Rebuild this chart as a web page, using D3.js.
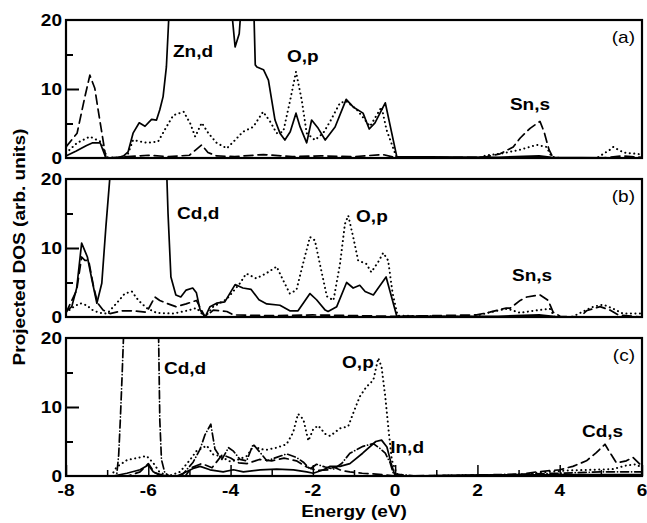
<!DOCTYPE html>
<html>
<head>
<meta charset="utf-8">
<script src="https://cdn.jsdelivr.net/npm/d3@7"></script>
<style>
body { margin: 0; background: #fff; }
text { font-family: "Liberation Sans", Arial, Helvetica, sans-serif; }
</style>
</head>
<body>
<script>
// projected DOS, [energy (eV), DOS]
// values above 20 leave the frame and are clipped
var znD_a = [[-8,0.3],[-7.75,1.0],[-7.5,1.8],[-7.35,2.2],[-7.17,2.2],[-7.03,0],[-6.76,0],[-6.6,0.3],[-6.49,0.9],[-6.37,3.6],[-6.22,5.1],[-6.08,4.6],[-5.92,5.6],[-5.8,5.5],[-5.72,7.0],[-5.64,8.9],[-5.56,13.2],[-5.5,20.5],[-5.4,35],[-4.1,35],[-3.96,20.5],[-3.89,16.1],[-3.79,18],[-3.76,20.5],[-3.6,35],[-3.48,35],[-3.43,20.5],[-3.4,13.5],[-3.36,13.2],[-3.2,12.8],[-3.08,11.3],[-3.0,8.4],[-2.92,5.5],[-2.8,3.6],[-2.68,2.6],[-2.55,3.8],[-2.41,6.5],[-2.31,4.5],[-2.15,2.2],[-2.03,5.5],[-1.87,4.3],[-1.7,2.6],[-1.46,4.5],[-1.19,8.5],[-1.02,7.4],[-0.78,6.5],[-0.63,4.2],[-0.49,5.1],[-0.24,8.0],[0.04,0.2],[2.5,0.1],[3.5,0.3],[3.8,0.1],[6,0]];
var oP_a = [[-8,0.7],[-7.73,2.2],[-7.42,3.1],[-7.17,2.4],[-7.0,0.1],[-6.6,0],[-6.5,0.5],[-6.37,2.6],[-6.04,2.2],[-5.76,2.4],[-5.56,4.5],[-5.39,6.2],[-5.14,6.7],[-4.98,5.0],[-4.86,3.1],[-4.7,5.1],[-4.54,3.6],[-4.34,2.2],[-4.09,1.4],[-3.89,2.6],[-3.7,3.8],[-3.45,4.5],[-3.21,6.7],[-3.04,5.3],[-2.88,3.6],[-2.72,3.8],[-2.55,8.4],[-2.41,12.5],[-2.27,8.4],[-2.15,3.6],[-1.95,2.6],[-1.75,3.6],[-1.58,5.3],[-1.34,8.0],[-1.18,8.2],[-0.93,7.0],[-0.61,4.6],[-0.33,7.4],[-0.21,4.1],[0.04,0],[2.0,0],[2.23,0.4],[2.55,0.6],[3.04,1.2],[3.44,1.9],[3.68,1.6],[3.8,0.2],[4.0,0],[4.9,0],[5.22,1.2],[5.3,1.6],[5.55,0.8],[5.87,0.6],[6,0.5]];
var snS_a = [[-8,1.6],[-7.73,3.6],[-7.54,8.9],[-7.42,12.0],[-7.3,10.1],[-7.22,7.0],[-7.1,2.6],[-7.03,0],[-6.5,0.2],[-6.0,0.4],[-5.5,0.2],[-5.0,0.4],[-4.86,1.1],[-4.7,1.9],[-4.55,0.8],[-4.34,0.3],[-3.9,0.2],[-3.2,0.5],[-2.5,0.2],[-1.8,0.3],[-1.0,0.2],[-0.3,0.5],[0.04,0],[2.0,0.1],[2.23,0.2],[2.55,0.6],[2.87,1.6],[3.04,2.9],[3.28,4.3],[3.52,5.3],[3.62,3.8],[3.74,1.2],[3.84,0],[5.0,0],[5.5,0.3],[6,0.1]];

var cdD_b = [[-8,0.8],[-7.86,1.5],[-7.74,4.2],[-7.62,10.7],[-7.48,8.7],[-7.37,5.4],[-7.25,2.0],[-7.13,4.9],[-7.03,13.1],[-6.93,20.5],[-6.85,35],[-5.6,35],[-5.55,20.5],[-5.52,15],[-5.45,5.8],[-5.33,3.2],[-5.21,2.9],[-5.08,3.9],[-4.92,4.2],[-4.83,3.5],[-4.74,1.0],[-4.62,0],[-4.5,1.5],[-4.34,2.0],[-4.14,2.2],[-3.89,4.7],[-3.7,4.2],[-3.5,4.0],[-3.31,2.5],[-3.12,1.9],[-2.8,1.7],[-2.56,0.9],[-2.36,0.9],[-2.07,3.4],[-1.91,2.5],[-1.7,1.0],[-1.63,0.8],[-1.42,1.5],[-1.18,5.0],[-1.02,4.2],[-0.86,4.6],[-0.73,3.7],[-0.53,3.2],[-0.41,4.2],[-0.22,5.8],[-0.11,3.4],[0.04,0.1],[2.5,0.1],[3.5,0.3],[4,0],[6,0]];
var oP_b = [[-8,0.6],[-7.86,1.3],[-7.66,2.0],[-7.5,1.7],[-7.33,0.9],[-7.17,0.6],[-7.0,0.5],[-6.77,2.0],[-6.57,3.4],[-6.4,3.7],[-6.24,2.4],[-6.04,1.3],[-5.8,0.6],[-5.39,0.5],[-5.07,0.9],[-4.83,1.3],[-4.62,0],[-4.42,1.5],[-4.09,2.6],[-3.77,4.9],[-3.62,6.3],[-3.38,5.6],[-3.14,6.3],[-2.88,7.3],[-2.72,5.3],[-2.56,3.4],[-2.4,3.9],[-2.24,7.7],[-2.07,11.6],[-1.95,11.1],[-1.83,7.7],[-1.66,3.0],[-1.5,2.4],[-1.34,7.7],[-1.22,13.5],[-1.14,14.7],[-1.02,11.6],[-0.9,8.2],[-0.7,7.7],[-0.58,6.5],[-0.41,8.0],[-0.29,9.3],[-0.17,8.2],[-0.06,3.4],[0.06,0.2],[1.8,0],[1.98,0.2],[2.47,0.9],[2.73,1.2],[3.04,0.6],[3.35,0.9],[3.76,1.2],[3.88,0],[4.3,0],[4.5,0.6],[4.82,1.5],[5.06,1.8],[5.3,1.2],[5.54,0.5],[5.87,0.5],[6,0.5]];
var snS_b = [[-8,0.6],[-7.74,3.9],[-7.62,8.7],[-7.54,8.2],[-7.45,8.2],[-7.33,4.4],[-7.23,2.0],[-7.1,1.0],[-6.93,0.5],[-6.62,0.9],[-6.37,0.9],[-6.04,0.7],[-5.84,2.9],[-5.72,2.4],[-5.56,2.0],[-5.33,1.5],[-5.08,1.9],[-4.83,2.4],[-4.62,0],[-4.42,1.0],[-4.09,0.8],[-3.93,0.3],[-3,0.2],[-2,0.3],[-1,0.2],[0,0.1],[1.98,0.3],[2.3,0.7],[2.7,1.3],[2.8,1.3],[3.04,2.4],[3.2,2.9],[3.52,3.2],[3.72,2.4],[3.84,0.7],[4.01,0.1],[4.5,0],[4.65,0.9],[4.98,1.5],[5.22,1.0],[5.42,0.3],[6,0]];

var cdD_c = [[-8,0],[-6.77,0],[-6.72,3],[-6.68,8.1],[-6.64,14],[-6.6,20.5],[-6.55,35],[-5.8,35],[-5.75,20.5],[-5.72,8.1],[-5.68,2.4],[-5.6,0.5],[-5.5,0],[-5.2,0],[-5.07,0.9],[-4.91,2.0],[-4.74,3.9],[-4.62,6.0],[-4.48,7.5],[-4.38,3.9],[-4.21,2.4],[-4.05,4.1],[-3.93,3.6],[-3.77,2.4],[-3.61,2.2],[-3.45,4.6],[-3.28,3.4],[-3.12,2.2],[-2.88,2.7],[-2.64,3.2],[-2.4,2.7],[-2.23,2.0],[-2.07,1.0],[-1.91,1.7],[-1.7,1.3],[-1.5,1.0],[-1.3,1.8],[-1.1,3.3],[-0.78,4.3],[-0.53,4.7],[-0.37,4.0],[-0.24,3.3],[-0.12,1.9],[-0.04,0.3],[0.5,0],[2.5,0.2],[4,0.4],[5,0.6],[6,0.6]];
var oP_c = [[-8,0],[-6.9,0],[-6.77,1.3],[-6.52,2.3],[-6.28,2.6],[-6.04,2.9],[-5.88,1.9],[-5.72,0.5],[-5.5,0],[-5.23,0.6],[-4.99,2.3],[-4.83,3.6],[-4.58,4.4],[-4.42,3.1],[-4.26,2.9],[-4.01,2.1],[-3.85,2.3],[-3.6,2.9],[-3.44,4.4],[-3.28,3.9],[-3.12,3.8],[-2.88,4.1],[-2.64,4.6],[-2.48,6.3],[-2.36,9.0],[-2.23,8.2],[-2.11,5.1],[-1.99,6.8],[-1.87,7.3],[-1.7,6.1],[-1.58,5.8],[-1.34,6.9],[-1.14,7.2],[-1.02,9.1],[-0.86,11.5],[-0.7,12.9],[-0.53,13.9],[-0.41,17.1],[-0.33,15.8],[-0.24,11.5],[-0.16,6.7],[-0.08,2.3],[0.04,0.3],[0.3,0],[3,0],[3.5,0.5],[4.2,0.8],[4.8,0.9],[5.3,1.0],[5.6,1.5],[5.85,1.7],[6,1.2]];
var inD_c = [[-8,0],[-6.85,0],[-6.52,0.4],[-6.2,0.9],[-6.0,1.6],[-5.88,0.6],[-5.72,0.1],[-5.3,0],[-5.15,0.4],[-4.91,1.1],[-4.74,1.4],[-4.5,0.9],[-4.18,0.6],[-3.93,0.9],[-3.69,0.6],[-3.28,0.9],[-2.88,1.0],[-2.47,0.9],[-2.15,0.6],[-1.99,0.4],[-1.74,0.9],[-1.58,1.4],[-1.34,1.4],[-1.1,1.8],[-0.79,3.3],[-0.47,5.0],[-0.33,5.2],[-0.2,4.2],[-0.1,1.9],[0,0],[2,0.1],[4,0.2],[6,0.2]];
var cdS_c = [[-8,0],[-6.5,0],[-6.2,0.6],[-6.0,1.8],[-5.85,0.5],[-5.6,0],[-5.1,0],[-4.95,1.2],[-4.7,1.8],[-4.45,1.2],[-4.2,3.1],[-4.0,2.6],[-3.8,1.9],[-3.6,1.8],[-3.3,2.4],[-3.0,2.2],[-2.7,2.6],[-2.4,2.2],[-2.15,1.3],[-1.9,0.8],[-1.6,0.9],[-1.5,1.3],[-1.3,0.8],[-1.1,0.6],[-0.8,0.4],[-0.3,0.2],[0,0],[3.0,0.2],[3.44,0.6],[4.0,0.9],[4.32,1.4],[4.65,2.2],[4.89,3.4],[5.1,4.6],[5.22,3.4],[5.38,1.9],[5.62,2.2],[5.78,2.7],[5.95,1.7],[6,1.5]];

var xTicks = [-8, -6, -4, -2, 0, 2, 4, 6];
var yTicks = [0, 10, 20];
var panelTags = ['(a)', '(b)', '(c)'];

var dashes = {
    solid: null,
    dash: '9,5',
    dot: '0.1,4.4',
    dashdot: '8,3,0.1,3'
};

var panels = [
    {tag: panelTags[0],
     series: [{d: znD_a, s: 'solid'}, {d: oP_a, s: 'dot'}, {d: snS_a, s: 'dash'}],
     labels: [{t: 'Zn,d', e: -5.40, v: 14.6}, {t: 'O,p', e: -2.63, v: 13.9}, {t: 'Sn,s', e: 2.79, v: 7.0}]},
    {tag: panelTags[1],
     series: [{d: cdD_b, s: 'solid'}, {d: oP_b, s: 'dot'}, {d: snS_b, s: 'dash'}],
     labels: [{t: 'Cd,d', e: -5.30, v: 14.2}, {t: 'O,p', e: -0.95, v: 13.8}, {t: 'Sn,s', e: 2.84, v: 5.2}]},
    {tag: panelTags[2],
     series: [{d: cdD_c, s: 'dashdot'}, {d: oP_c, s: 'dot'}, {d: inD_c, s: 'solid'}, {d: cdS_c, s: 'dash'}],
     labels: [{t: 'Cd,d', e: -5.62, v: 14.8}, {t: 'O,p', e: -1.29, v: 15.7}, {t: 'In,d', e: -0.12, v: 3.3}, {t: 'Cd,s', e: 4.54, v: 5.7}],
     xticks: true}
];

var width = 647, height = 523;
var left = 66, right = 642,
    top0 = 20, panelH = 138, gap = 21;
var stretch = 1.12;   // the printed lettering is a bit wider than Arial

var x = d3.scaleLinear().domain([-8, 6]).range([left, right]);
var y = d3.scaleLinear().domain([0, 20]).range([panelH, 0]);

var svg = d3.select('body')
    .append('svg')
    .attr('width', width)
    .attr('height', height);

var line = d3.line()
    .x(function(d) { return x(d[0]); })
    .y(function(d) { return y(d[1]); });

function place(px, py) {
    return 'translate(' + px + ',' + py + ') scale(' + stretch + ',1)';
}

panels.forEach(function(p, i) {
    var g = svg.append('g')
        .attr('transform', 'translate(0,' + (top0 + i * (panelH + gap)) + ')');

    svg.append('clipPath')
        .attr('id', 'clip' + i)
        .append('rect')
        .attr('x', left)
        .attr('y', 0)
        .attr('width', right - left)
        .attr('height', panelH);

    var plot = g.append('g').attr('clip-path', 'url(#clip' + i + ')');

    p.series.forEach(function(s) {
        plot.append('path')
            .datum(s.d)
            .attr('d', line)
            .style('fill', 'none')
            .style('stroke', '#000')
            .style('stroke-width', s.s == 'dot' ? 2 : 1.7)
            .style('stroke-linecap', s.s == 'solid' ? 'butt' : 'round')
            .style('stroke-linejoin', 'round')
            .style('stroke-dasharray', dashes[s.s]);
    });

    // y ticks point inward from the left edge
    var yAxis = d3.axisRight(y)
        .tickValues([5, 10, 15])
        .tickSize(0)
        .tickFormat('');
    var ya = g.append('g').attr('transform', 'translate(' + left + ',0)').call(yAxis);
    ya.select('.domain').remove();
    ya.selectAll('.tick line')
        .attr('x2', function(d) { return d == 10 ? 13 : 7; })
        .style('stroke', '#000')
        .style('stroke-width', 2);

    g.selectAll('.ylab')
        .data(yTicks)
        .enter()
        .append('text')
        .attr('class', 'ylab')
        .attr('transform', function(d) { return place(left - 4, y(d)); })
        .attr('dy', '0.34em')
        .style('text-anchor', 'end')
        .style('font-weight', 'bold')
        .style('font-size', '17px')
        .text(function(d) { return d; });

    if (p.xticks) {
        var xa = g.append('g').attr('transform', 'translate(0,' + panelH + ')')
            .call(d3.axisTop(x).ticks(14).tickSize(0).tickFormat(''));
        xa.select('.domain').remove();
        xa.selectAll('.tick line')
            .attr('y2', function(d) { return d % 2 == 0 ? -11 : -6; })
            .style('stroke', '#000')
            .style('stroke-width', 1.5);
    }

    g.append('rect')
        .attr('x', left)
        .attr('y', 0)
        .attr('width', right - left)
        .attr('height', panelH)
        .style('fill', 'none')
        .style('stroke', '#000')
        .style('stroke-width', 2.2);

    g.append('text')
        .attr('transform', place(right - 7, 23))
        .style('text-anchor', 'end')
        .style('font-size', '17px')
        .text(p.tag);

    g.selectAll('.ann')
        .data(p.labels)
        .enter()
        .append('text')
        .attr('class', 'ann')
        .attr('transform', function(d) { return place(x(d.e), y(d.v)); })
        .style('font-weight', 'bold')
        .style('font-size', '17px')
        .text(function(d) { return d.t; });
});

var bottom = top0 + 2 * (panelH + gap) + panelH;

svg.selectAll('.xlab')
    .data(xTicks)
    .enter()
    .append('text')
    .attr('class', 'xlab')
    .attr('transform', function(d) { return place(x(d), bottom + 20); })
    .style('text-anchor', 'middle')
    .style('font-weight', 'bold')
    .style('font-size', '17px')
    .text(function(d) { return d; });

svg.append('text')
    .attr('transform', place((left + right) / 2, bottom + 41))
    .style('text-anchor', 'middle')
    .style('font-weight', 'bold')
    .style('font-size', '17px')
    .text('Energy (eV)');

svg.append('text')
    .attr('transform', 'translate(25,' + 247 + ') rotate(-90) scale(' + stretch + ',1)')
    .style('text-anchor', 'middle')
    .style('font-weight', 'bold')
    .style('font-size', '17px')
    .text('Projected DOS (arb. units)');
</script>
</body>
</html>
